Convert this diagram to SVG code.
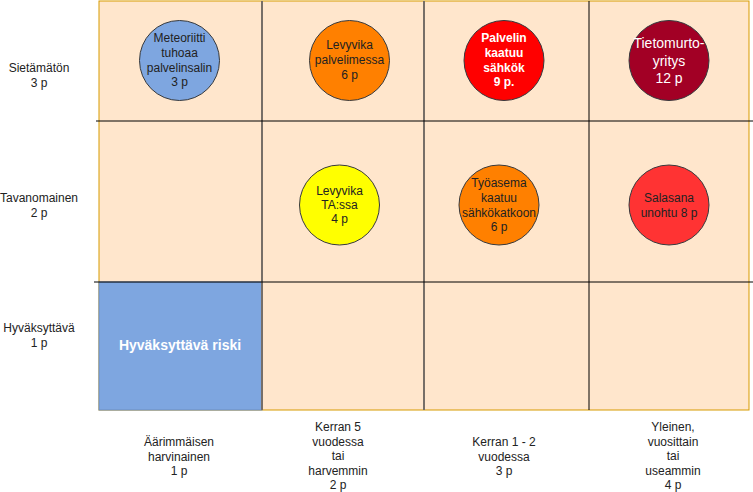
<svg xmlns="http://www.w3.org/2000/svg" width="753" height="492" viewBox="0 0 753 492">
<style>
text{font-family:"Liberation Sans",Arial,sans-serif;font-size:12px;text-anchor:middle;dominant-baseline:central;fill:#222}
.w{fill:#fff}
.b{font-weight:bold}
.c{stroke:#36393d;stroke-width:1}
.g{stroke:#776f68;stroke-width:2}
.k{stroke:#000;stroke-width:1}
</style>
<rect x="99" y="1" width="650" height="409" fill="#ffe6cc" stroke="#d79b00" stroke-width="1"/>
<g id="acceptable">
<rect x="99" y="282" width="163" height="128" fill="#7ea6e0" stroke="#6c8ebf" stroke-width="1"/>
<text x="180" y="345" class="w b" style="font-size:14px">Hyväksyttävä riski</text>
</g>
<g id="grid">
<line x1="262" y1="1" x2="262" y2="410" class="g"/>
<line x1="424" y1="1" x2="424" y2="410" class="g"/>
<line x1="589" y1="1" x2="589" y2="410" class="k"/>
<line x1="96" y1="121" x2="753" y2="121" class="k"/>
<line x1="94" y1="282" x2="753" y2="282" class="k"/>
</g>
<g id="row-labels">
<text x="39" y="68">Sietämätön</text><text x="39" y="83">3 p</text>
<text x="39" y="198">Tavanomainen</text><text x="39" y="213">2 p</text>
<text x="39" y="328">Hyväksyttävä</text><text x="39" y="343">1 p</text>
</g>
<g id="col-labels">
<text x="179" y="442">Äärimmäisen</text><text x="179" y="457">harvinainen</text><text x="179" y="471">1 p</text>
<text x="338" y="427">Kerran 5</text><text x="338" y="442">vuodessa</text><text x="338" y="456">tai</text><text x="338" y="471">harvemmin</text><text x="338" y="485">2 p</text>
<text x="504" y="442">Kerran 1 - 2</text><text x="504" y="457">vuodessa</text><text x="504" y="471">3 p</text>
<text x="673" y="427">Yleinen,</text><text x="673" y="442">vuosittain</text><text x="673" y="456">tai</text><text x="673" y="471">useammin</text><text x="673" y="485">4 p</text>
</g>
<g id="meteoriitti">
<circle cx="179.5" cy="60.5" r="40" fill="#7ea6e0" class="c"/>
<text x="179.5" y="38">Meteoriitti</text><text x="179.5" y="53">tuhoaa</text><text x="179.5" y="68">palvelinsalin</text><text x="179.5" y="82">3 p</text>
</g>
<g id="levyvika-palvelin">
<circle cx="349.5" cy="60.5" r="40" fill="#ff8000" class="c"/>
<text x="349.5" y="45">Levyvika</text><text x="349.5" y="60">palvelimessa</text><text x="349.5" y="75">6 p</text>
</g>
<g id="palvelin-kaatuu">
<circle cx="504" cy="60.5" r="40" fill="#ff0000" class="c"/>
<text x="504" y="38" class="w b">Palvelin</text><text x="504" y="53" class="w b">kaatuu</text><text x="504" y="68" class="w b">sähkök</text><text x="504" y="82" class="w b">9 p.</text>
</g>
<g id="tietomurto">
<circle cx="669" cy="60.5" r="40" fill="#a20025" class="c"/>
<text x="669" y="43" class="w" style="font-size:14px">Tietomurto-</text><text x="669" y="61" class="w" style="font-size:14px">yritys</text><text x="669" y="78" class="w" style="font-size:14px">12 p</text>
</g>
<g id="levyvika-ta">
<circle cx="339.5" cy="205" r="40" fill="#ffff00" class="c"/>
<text x="339.5" y="191">Levyvika</text><text x="339.5" y="205">TA:ssa</text><text x="339.5" y="219">4 p</text>
</g>
<g id="tyoasema">
<circle cx="499" cy="205" r="40" fill="#ff8000" class="c"/>
<text x="499" y="183">Työasema</text><text x="499" y="198">kaatuu</text><text x="499" y="213">sähkökatkoon</text><text x="499" y="227">6 p</text>
</g>
<g id="salasana">
<circle cx="669" cy="205" r="40" fill="#ff3333" class="c"/>
<text x="669" y="198">Salasana</text><text x="669" y="213">unohtu 8 p</text>
</g>
</svg>
